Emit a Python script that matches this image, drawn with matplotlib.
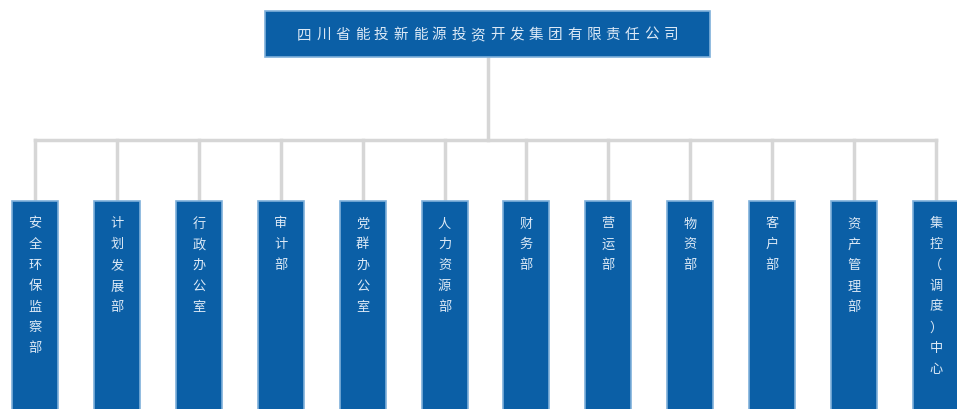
import matplotlib
matplotlib.use("Agg")
import matplotlib.pyplot as plt
from matplotlib.patches import Rectangle

plt.rcParams['font.family'] = ['Noto Sans CJK SC', 'DejaVu Sans']

top_name = "四川省能投新能源投资开发集团有限责任公司"
departments = [
    "安全环保监察部", "计划发展部", "行政办公室", "审计部", "党群办公室",
    "人力资源部", "财务部", "营运部", "物资部", "客户部", "资产管理部",
    "集控（调度）中心",
]

W, H = 957, 410
fig = plt.figure(figsize=(W / 100, H / 100), dpi=100)
ax = fig.add_axes([0, 0, 1, 1])
ax.set_xlim(0, W)
ax.set_ylim(H, 0)
ax.axis("off")

box_color = "#0b5fa6"
edge_color = "#7fb0da"
line_color = "#d6d6d6"
text_color = "#dce9f6"

# top box
tx0, tx1, ty0, ty1 = 265, 710, 12, 58
ax.add_patch(Rectangle((tx0, ty0), tx1 - tx0, ty1 - ty0, facecolor=box_color,
                       edgecolor=edge_color, linewidth=1.2, zorder=3))
tpitch = 19.3
tstart = (tx0 + tx1) / 2 - tpitch * (len(top_name) - 1) / 2
for i, ch in enumerate(top_name):
    ax.text(tstart + i * tpitch, (ty0 + ty1) / 2, ch, color=text_color,
            fontsize=10.5, ha="center", va="center", zorder=4)

# connectors
n = len(departments)
first_c, step = 35, 81.9
centers = [first_c + i * step for i in range(n)]
bus_y = 141
box_top = 202
box_w = 46
ax.plot([(tx0 + tx1) / 2] * 2, [ty1, bus_y], color=line_color, lw=2.5, zorder=1)
ax.plot([centers[0], centers[-1]], [bus_y, bus_y], color=line_color, lw=2.5, zorder=1)
for c in centers:
    ax.plot([c, c], [bus_y, box_top], color=line_color, lw=2.5, zorder=1)

# department boxes
pitch = 20.8
for c, name in zip(centers, departments):
    ax.add_patch(Rectangle((c - box_w / 2, box_top), box_w, H - box_top + 10,
                           facecolor=box_color, edgecolor=edge_color,
                           linewidth=1.2, zorder=3))
    y = box_top + 22
    for ch in name:
        ax.text(c, y, ch, color=text_color, fontsize=9.5, ha="center",
                va="center", zorder=4)
        y += pitch

fig.savefig("out.png", dpi=100)
